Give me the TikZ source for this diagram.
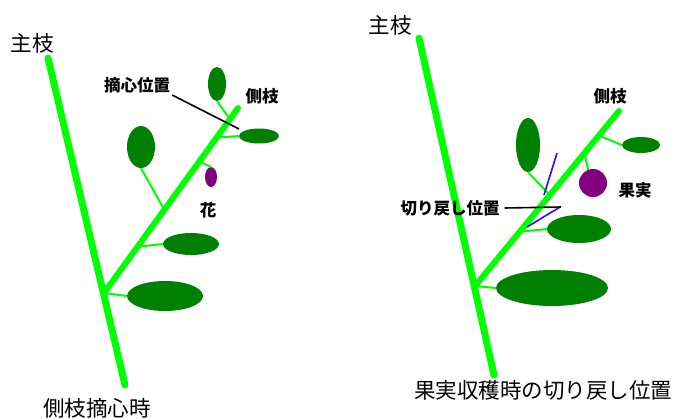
\documentclass[tikz,border=0pt]{standalone}
\usepackage{fontspec}
\setmainfont{Noto Sans CJK JP}
\usepackage{xcolor}
\usetikzlibrary{positioning,shapes.geometric,calc}

\definecolor{stemgreen}{RGB}{0,255,0}
\definecolor{leafgreen}{RGB}{0,128,0}
\definecolor{budpurple}{RGB}{128,0,128}
\definecolor{cutblue}{RGB}{60,0,255}

\begin{document}
\begin{tikzpicture}[x=1pt,y=-1pt,
    stem/.style={line width=7pt,stemgreen,line cap=round},
    branch/.style={line width=6pt,stemgreen,line cap=round},
    twig/.style={line width=2pt,stemgreen},
    leaf/.style={ellipse,fill=leafgreen,inner sep=0,minimum width=2*#1},
    pointer/.style={line width=1.6pt,black},
    cutline/.style={line width=1.6pt,cutblue},
    tag/.style={inner sep=0,font=\fontsize{16.5}{16.5}\selectfont\bfseries},
    title/.style={inner sep=0,font=\fontsize{21.5}{21.5}\selectfont}]
    \useasboundingbox (0,0) rectangle (679,418);

    % left: pinching the side shoot
    \coordinate (mtop) at (48,58);
    \coordinate (mbot) at (125,385);
    \coordinate (sj) at (104,293);
    \coordinate (stip) at (238,108);
    \draw[stem] (mtop) -- (mbot);
    \draw[branch] (sj) -- (stip);
    \node[leaf=9,minimum height=34pt] (lf1) at (217,84) {};
    \node[leaf=20,minimum height=15pt] (lf2) at (259,136) {};
    \node[leaf=14,minimum height=42pt] (lf3) at (141,147) {};
    \node[leaf=28,minimum height=22pt] (lf4) at (191,244) {};
    \node[leaf=38,minimum height=30pt] (lf5) at (165,296) {};
    \node[ellipse,fill=budpurple,inner sep=0,minimum width=12pt,minimum height=20pt] (fl) at (211,177) {};
    \coordinate (b1) at ($(sj)!0.94!(stip)$);
    \coordinate (b2) at ($(sj)!0.84!(stip)$);
    \coordinate (b3) at ($(sj)!0.71!(stip)$);
    \coordinate (b4) at ($(sj)!0.45!(stip)$);
    \coordinate (b5) at ($(sj)!0.25!(stip)$);
    \draw[twig] (b1) -- (lf1.south);
    \draw[twig] (b2) -- (lf2.west);
    \draw[twig] (b3) -- (fl.north);
    \draw[twig] (b4) -- (lf3.south);
    \draw[twig] (b5) -- (lf4.west);
    \draw[twig] (sj) -- (lf5.west);

    \node[title] (main1) at (32,43) {主枝};
    \node[tag] (pinch) at (137,85) {摘心位置};
    \coordinate (pinchend) at (239,129);
    \draw[pointer] (pinch.south east) ++(2,2) coordinate (pinchstart) -- (pinchend);
    \node[tag] (side1) at (262,96) {側枝};
    \node[tag] (flw) at (208,210) {花};
    \node[title] (cap1) at (97,408) {側枝摘心時};

    % right: cutting back after harvest
    \coordinate (mtop2) at (419,38);
    \coordinate (mbot2) at (494,375);
    \coordinate (sj2) at (475,286);
    \coordinate (stip2) at (619,111);
    \draw[stem] (mtop2) -- (mbot2);
    \draw[branch] (sj2) -- (stip2);
    \node[leaf=12,minimum height=54pt] (rf1) at (528,145) {};
    \node[leaf=19,minimum height=16pt] (rf2) at (641,145) {};
    \node[leaf=32,minimum height=28pt] (rf3) at (579,229) {};
    \node[leaf=56,minimum height=36pt] (rf4) at (552,288) {};
    \node[circle,fill=budpurple,inner sep=0,minimum size=28pt] (fr) at (593,183) {};
    \coordinate (c1) at ($(sj2)!0.52!(stip2)$);
    \coordinate (c2) at ($(sj2)!0.86!(stip2)$);
    \coordinate (c3) at ($(sj2)!0.76!(stip2)$);
    \coordinate (c4) at ($(sj2)!0.31!(stip2)$);
    \draw[twig] (c1) -- (rf1.south);
    \draw[twig] (c2) -- (rf2.west);
    \draw[twig] (c3) -- (fr.110);
    \draw[twig] (c4) -- (rf3.west);
    \draw[twig] (sj2) -- (rf4.west);

    % cut marks
    \coordinate (u1) at (557,153);
    \coordinate (u2) at (544,195);
    \coordinate (l1) at (560,207);
    \coordinate (l2) at (527,227);
    \draw[cutline] (u1) -- (u2);
    \draw[cutline] (l1) -- (l2);

    \node[title] (main2) at (390,25) {主枝};
    \node[tag] (side2) at (610,96) {側枝};
    \node[tag] (fruit) at (635,190) {果実};
    \node[tag] (back) at (450,208) {切り戻し位置};
    \coordinate (backend) at (561,207);
    \draw[pointer] (back.east) ++(5,0) coordinate (backstart) -- (backend);
    \node[title] (cap2) at (543,390) {果実収穫時の切り戻し位置};
\end{tikzpicture}
\end{document}
